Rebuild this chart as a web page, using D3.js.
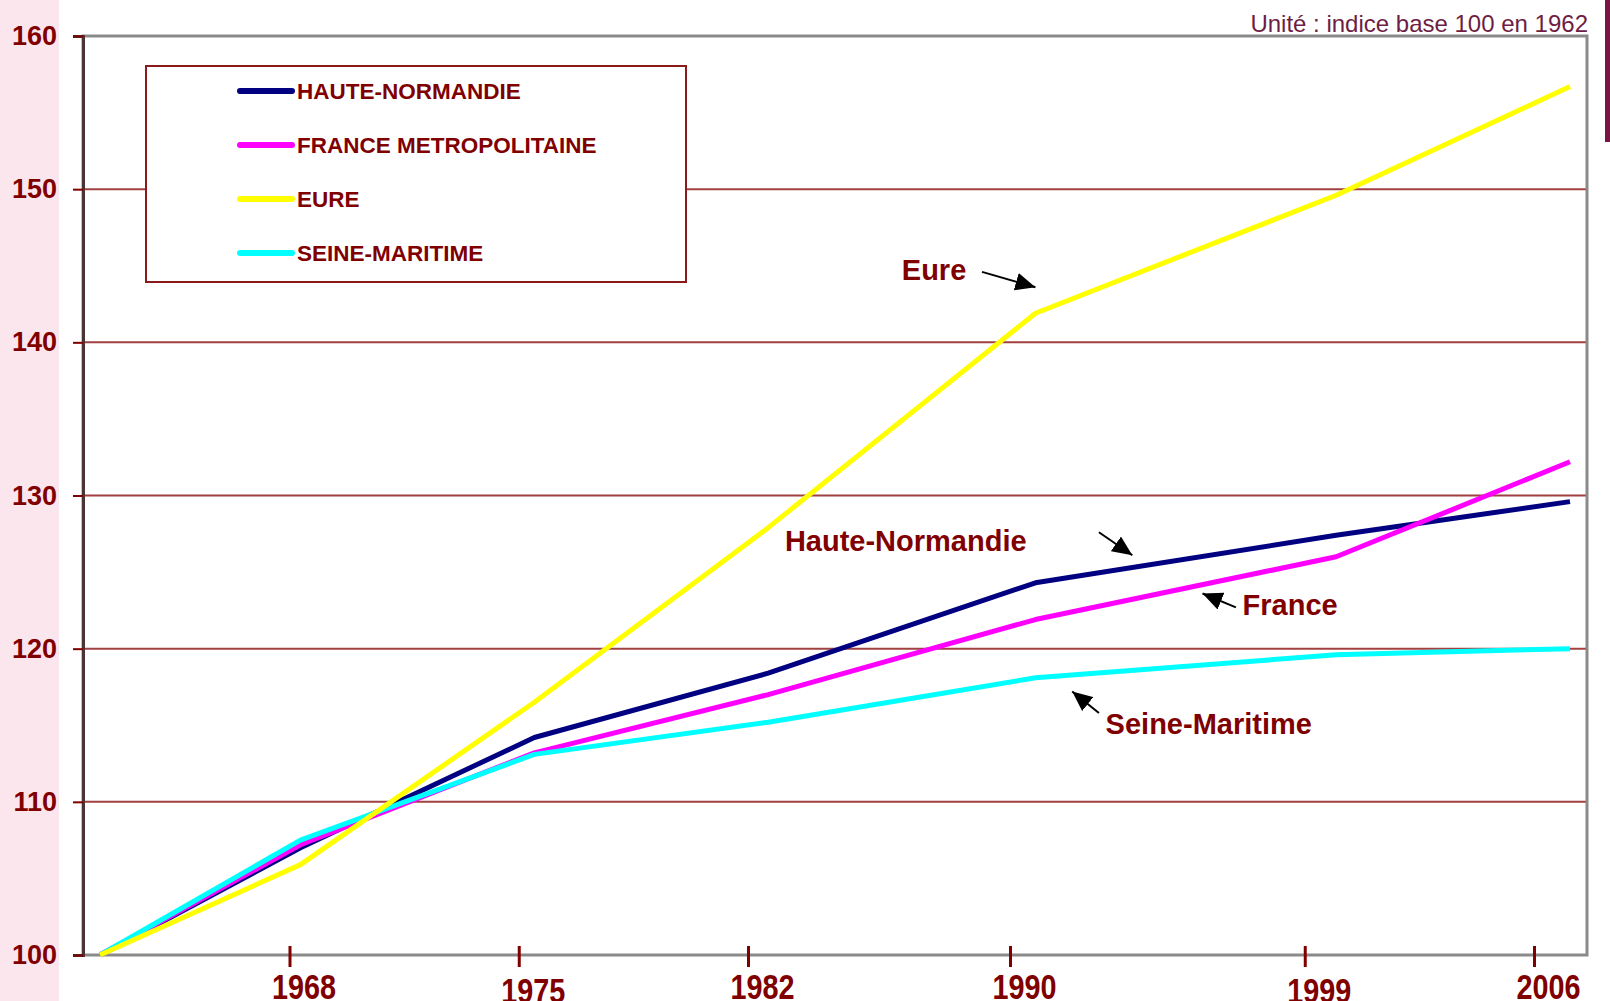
<!DOCTYPE html>
<html>
<head>
<meta charset="utf-8">
<script src="https://cdn.jsdelivr.net/npm/d3@7"></script>
<style>
  body { margin: 0; background: #fff; }
  svg { display: block; font-family: "Liberation Sans", Arial, sans-serif; }
</style>
</head>
<body>
<svg width="1610" height="1001"></svg>
<script>
// census years and index values (base 100 in 1962)
const years = [1962, 1968, 1975, 1982, 1990, 1999, 2006]
const hauteNormandie = [100, 107.0, 114.2, 118.4, 124.3, 127.4, 129.6]
const france = [100, 107.2, 113.2, 117.0, 121.9, 126.0, 132.2]
const eure = [100, 105.9, 116.5, 127.9, 141.9, 149.6, 156.7]
const seineMaritime = [100, 107.5, 113.1, 115.2, 118.1, 119.6, 120.0]

const seriesNames = ["HAUTE-NORMANDIE", "FRANCE METROPOLITAINE", "EURE", "SEINE-MARITIME"]
const yTicks = [100, 110, 120, 130, 140, 150, 160]
const xTicks = [1968, 1975, 1982, 1990, 1999, 2006]

// annotations: label text, label anchor, arrow tail and tip (data units)
const noteLabels = ["Eure", "Haute-Normandie", "France", "Seine-Maritime"]
const noteText = [[1986.0, 144.1], [1982.5, 126.4], [1996.2, 122.2], [1992.1, 114.4]]
const noteTail = [[1988.4, 144.6], [1991.9, 127.6], [1996.0, 122.7], [1991.9, 115.8]]
const noteTip = [[1990.0, 143.6], [1992.9, 126.1], [1995.0, 123.6], [1991.1, 117.2]]

const colors = ["#000080", "#ff00ff", "#ffff00", "#00ffff"]
const maroon = "#800000"

var svg = d3.select("svg")

var x = d3.scaleLinear().domain([1962, 2006]).range([100, 1570])
var xTick = d3.scaleLinear().domain([1962, 2006]).range([93, 1534])
var y = d3.scaleLinear().domain([100, 160]).range([955, 36])

// pink strip on the left
svg.append("rect").attr("x", 0).attr("y", 0).attr("width", 59).attr("height", 1001).attr("fill", "#fce6ee")
// dark bar at the right edge
svg.append("rect").attr("x", 1605).attr("y", 0).attr("width", 5).attr("height", 142).attr("fill", "#7a1443")

// gridlines
svg.append("g").selectAll("line")
  .data(yTicks.filter(d => d > 100 && d < 160))
  .enter().append("line")
  .attr("x1", 83).attr("x2", 1587)
  .attr("y1", d => y(d)).attr("y2", d => y(d))
  .attr("stroke", "#a04040").attr("stroke-width", 2)

// plot frame
svg.append("rect").attr("x", 83).attr("y", 36).attr("width", 1504).attr("height", 919)
  .attr("fill", "none").attr("stroke", "#8a8a8a").attr("stroke-width", 3)

// y axis
var yAxis = svg.append("g").attr("transform", "translate(83,0)")
  .call(d3.axisLeft(y).tickValues(yTicks).tickSize(10).tickPadding(16))
yAxis.select(".domain").attr("stroke", "#4a3434").attr("stroke-width", 3)
yAxis.selectAll(".tick line").attr("stroke", maroon).attr("stroke-width", 2)
yAxis.selectAll("text").attr("fill", maroon).attr("font-size", 27).attr("font-weight", "bold")
  .attr("font-family", "Liberation Sans, Arial, sans-serif")

// x axis (ticks sit on their own scale, like the original)
var xAxis = svg.append("g").attr("transform", "translate(0,955)")
  .call(d3.axisBottom(xTick).tickValues(xTicks).tickFormat(d3.format("d")).tickSize(12).tickSizeOuter(0))
xAxis.select(".domain").remove()
xAxis.selectAll(".tick line").attr("y1", -9).attr("stroke", maroon).attr("stroke-width", 3)
xAxis.selectAll("text")
  .attr("fill", maroon).attr("font-size", 36).attr("font-weight", "bold")
  .attr("font-family", "Liberation Sans, Arial, sans-serif")
  .attr("dy", null)
  .attr("y", (d, i) => (i === 1 || i === 4) ? 48 : 44)
  .attr("transform", "translate(14,0) scale(0.8,1)")

// lines
var line = d3.line().x((d, i) => x(years[i])).y(d => y(d))
var allSeries = [hauteNormandie, france, seineMaritime, eure]
var allColors = [colors[0], colors[1], colors[3], colors[2]]
svg.append("g").selectAll("path")
  .data(allSeries)
  .enter().append("path")
  .attr("d", d => line(d))
  .attr("fill", "none")
  .attr("stroke", (d, i) => allColors[i])
  .attr("stroke-width", 5)
  .attr("stroke-linejoin", "round")

// legend
var legend = svg.append("g")
legend.append("rect").attr("x", 146).attr("y", 66).attr("width", 540).attr("height", 216)
  .attr("fill", "#fff").attr("stroke", "#8b1a1a").attr("stroke-width", 2)
var legendY = d3.scalePoint().domain(seriesNames).range([91, 253])
var item = legend.selectAll("g.item")
  .data(seriesNames)
  .enter().append("g").attr("class", "item")
item.append("line")
  .attr("x1", 240).attr("x2", 292)
  .attr("y1", d => legendY(d)).attr("y2", d => legendY(d))
  .attr("stroke", (d, i) => colors[i]).attr("stroke-width", 6).attr("stroke-linecap", "round")
item.append("text")
  .attr("x", 297).attr("y", d => legendY(d) + 8)
  .attr("fill", maroon).attr("font-size", 22.5).attr("font-weight", "bold")
  .text(d => d)

// unit text
svg.append("text").attr("x", 1588).attr("y", 32).attr("text-anchor", "end")
  .attr("fill", "#6e1d45").attr("font-size", 24)
  .text("Unité : indice base 100 en 1962")

// arrows and annotations
svg.append("defs").append("marker")
  .attr("id", "head").attr("viewBox", "0 0 10 10")
  .attr("refX", 10).attr("refY", 5)
  .attr("markerUnits", "userSpaceOnUse")
  .attr("markerWidth", 20).attr("markerHeight", 18)
  .attr("orient", "auto").attr("preserveAspectRatio", "none")
  .append("path").attr("d", "M0,0 L10,5 L0,10 z").attr("fill", "#000")

svg.append("g").selectAll("line")
  .data(noteLabels)
  .enter().append("line")
  .attr("x1", (d, i) => x(noteTail[i][0])).attr("y1", (d, i) => y(noteTail[i][1]))
  .attr("x2", (d, i) => x(noteTip[i][0])).attr("y2", (d, i) => y(noteTip[i][1]))
  .attr("stroke", "#000").attr("stroke-width", 2)
  .attr("marker-end", "url(#head)")

svg.append("g").selectAll("text")
  .data(noteLabels)
  .enter().append("text")
  .attr("x", (d, i) => x(noteText[i][0])).attr("y", (d, i) => y(noteText[i][1]))
  .attr("fill", maroon).attr("font-size", 29).attr("font-weight", "bold")
  .text(d => d)
</script>
</body>
</html>
